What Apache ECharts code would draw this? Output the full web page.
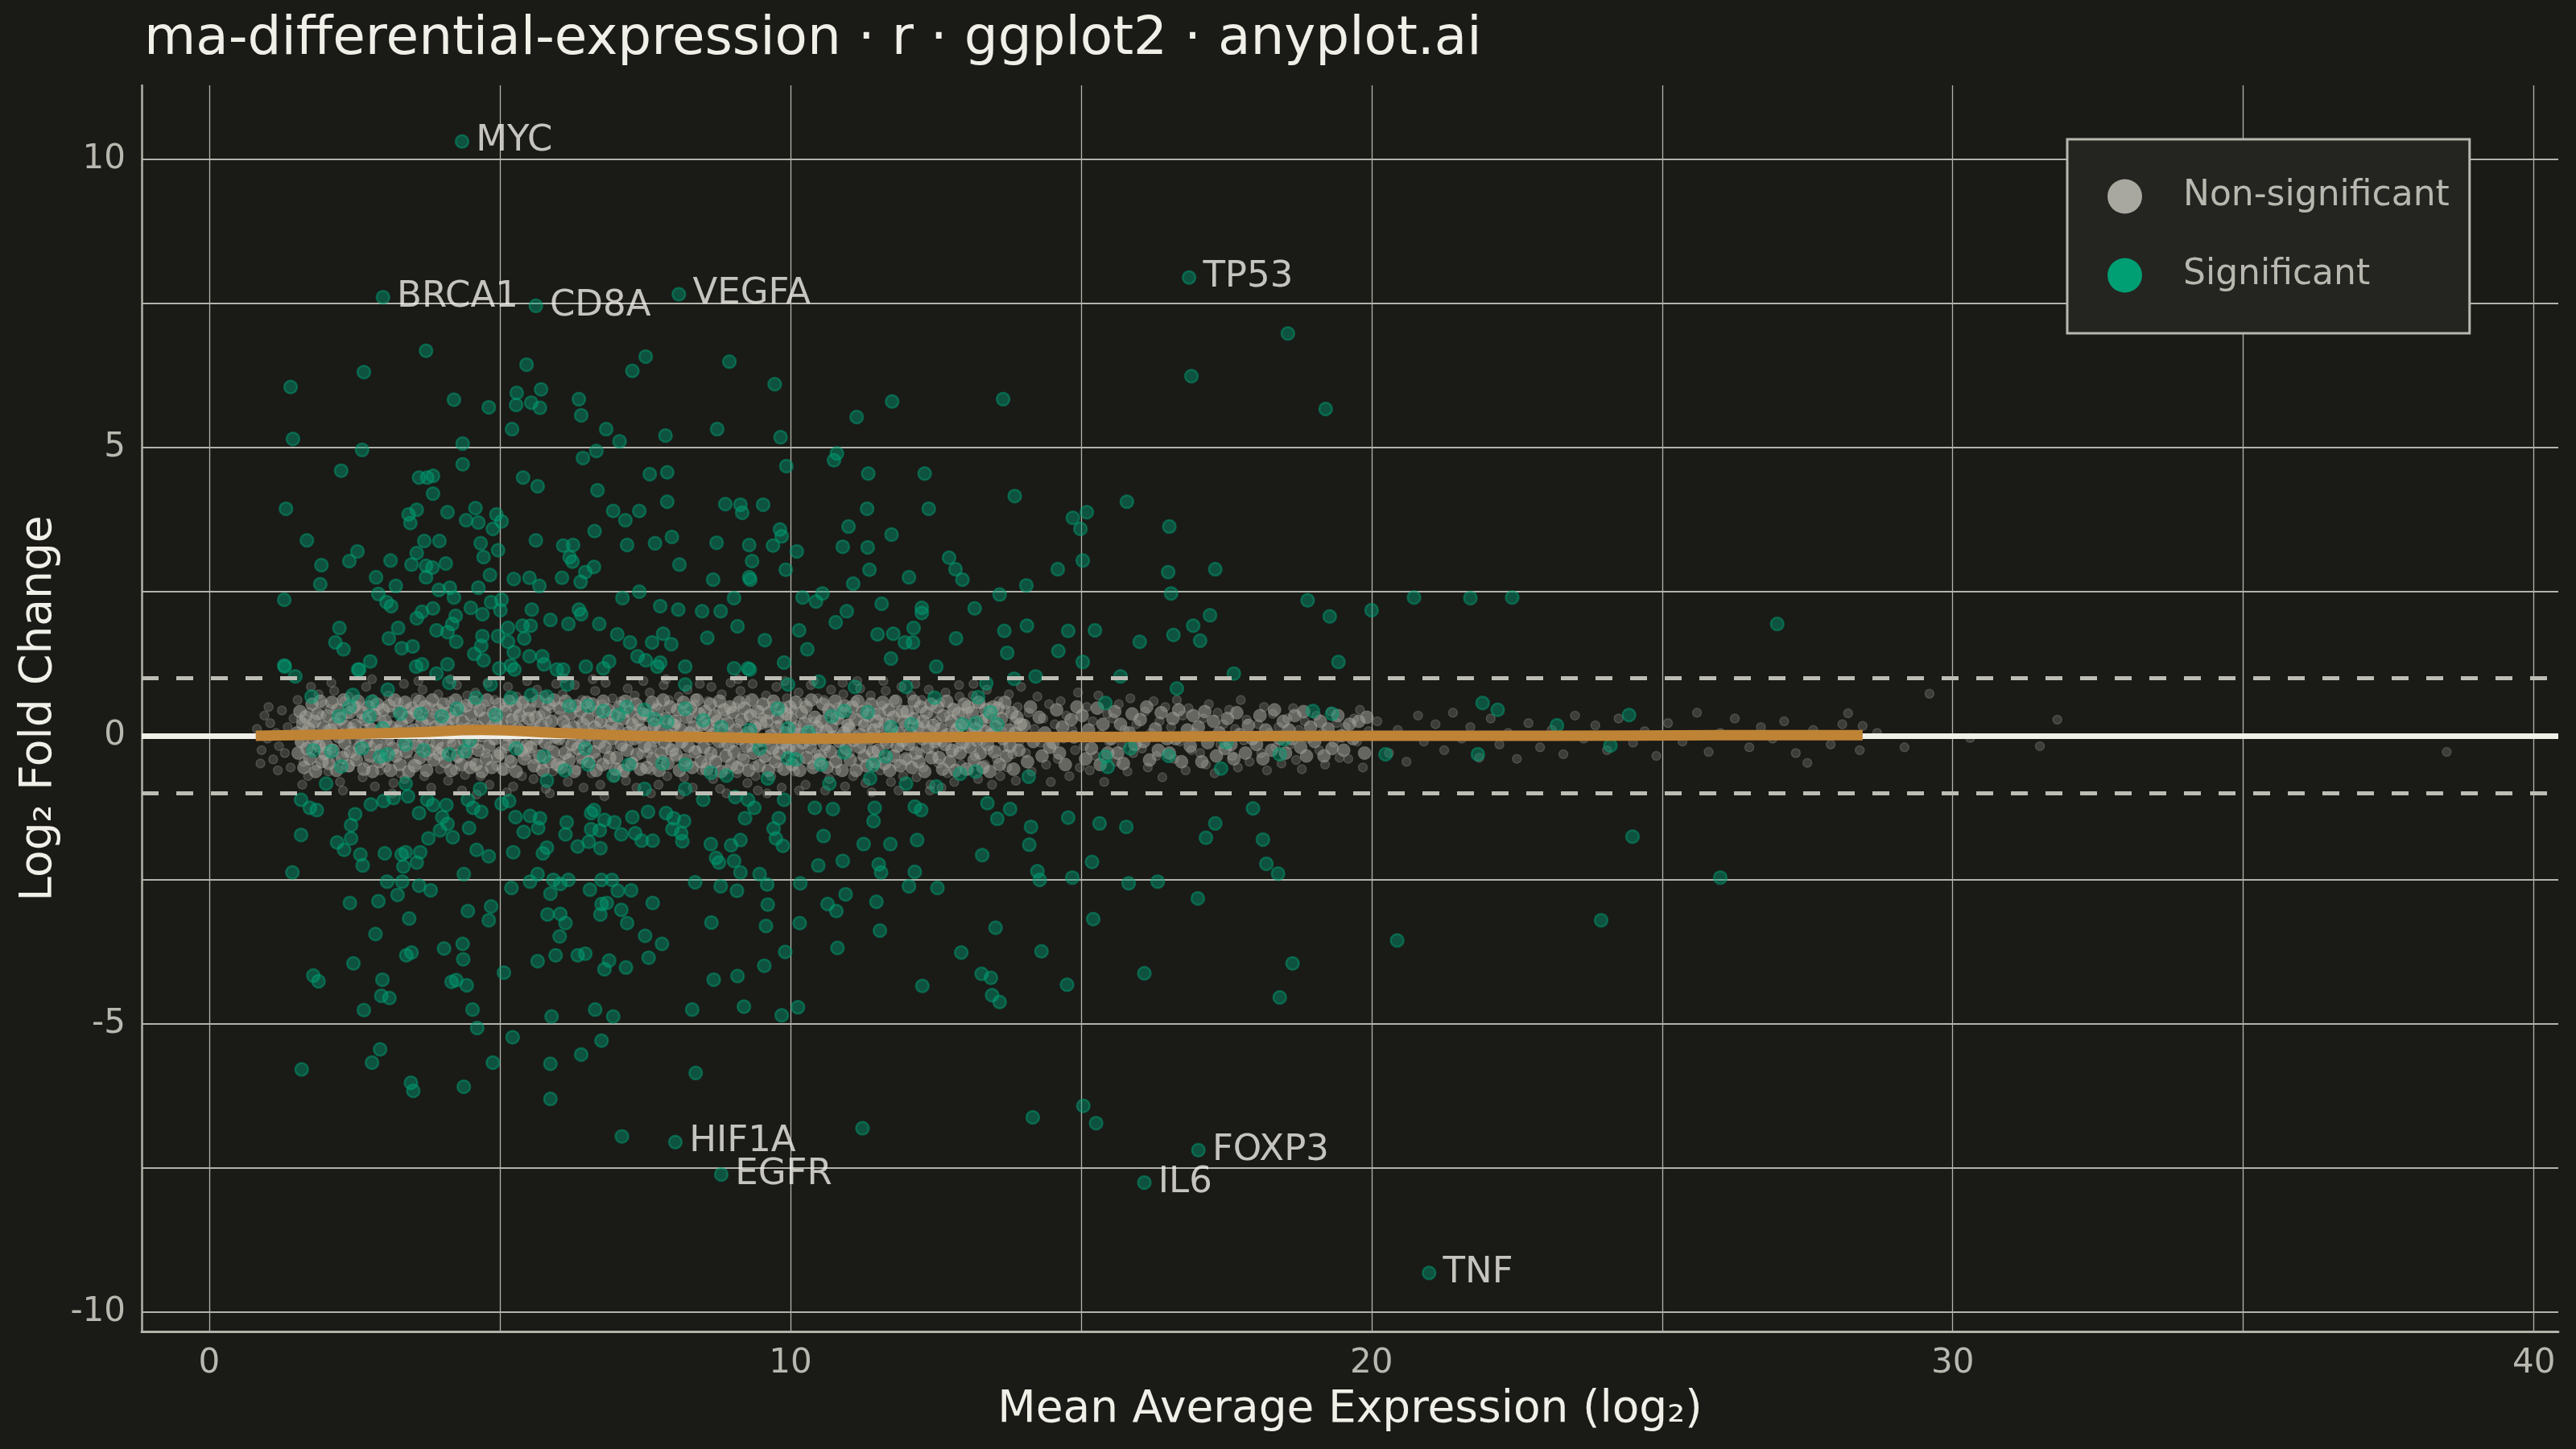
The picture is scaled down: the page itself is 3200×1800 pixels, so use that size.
<!DOCTYPE html>
<html>
<head>
<meta charset="utf-8">
<title>ma-differential-expression</title>
<script src="https://cdn.jsdelivr.net/npm/echarts@6/dist/echarts.min.js"></script>
<style>
  html, body { margin: 0; padding: 0; background: #1a1a17; }
  #chart { width: 3200px; height: 1800px; }
</style>
</head>
<body>
<div id="chart"></div>
<script>
// [mean expression (log2), log2 fold change]
const nonSigPoints = [
  [0.82,0.12],[0.9,-0.25],[0.95,0.35],[1.0,-0.05],[1.05,0.22],[1.1,-0.41],[1.15,0.05],[1.2,-0.18],[1.25,0.44],[1.3,-0.3],[1.35,0.15],[1.4,-0.55],[1.45,0.3],[0.88,-0.48],[1.02,0.5],[1.18,-0.6],
  [1.52,0.62],[1.55,-0.12],[1.58,0.28],[1.62,-0.45],[1.65,0.08],[1.7,-0.7],[1.72,0.41],[1.76,-0.26],[1.8,0.18],[1.84,-0.52],[1.88,0.72],[1.9,-0.02],[1.93,0.35],[1.96,-0.35],[1.98,0.55],[1.6,-0.85],[1.75,0.85],[1.85,-0.15],
  [2.02,0.1],[2.05,-0.62],[2.08,0.46],[2.12,-0.22],[2.15,0.78],[2.18,-0.42],[2.22,0.25],[2.25,-0.8],[2.28,0.05],[2.32,0.6],[2.35,-0.3],[2.38,0.38],[2.42,-0.55],[2.45,0.15],[2.48,-0.08],[2.1,0.92],[2.3,-0.95],[2.4,0.68],
  [2.52,-0.35],[2.55,0.52],[2.58,-0.05],[2.61,0.3],[2.64,-0.72],[2.67,0.12],[2.7,0.85],[2.73,-0.48],[2.76,0.2],[2.79,-0.18],[2.82,0.64],[2.85,-0.88],[2.88,0.02],[2.91,0.44],[2.94,-0.6],[2.97,0.27],[2.6,-0.25],[2.8,0.98],
  [3.02,0.18],[3.05,-0.55],[3.08,0.7],[3.11,-0.1],[3.14,0.4],[3.17,-0.82],[3.2,0.05],[3.23,-0.3],[3.26,0.58],[3.29,-0.65],[3.32,0.25],[3.35,0.9],[3.38,-0.2],[3.41,0.47],[3.44,-0.42],[3.47,0.1],[3.15,-1.0],[3.36,-0.75],
  [3.52,-0.15],[3.55,0.66],[3.58,-0.5],[3.61,0.32],[3.64,-0.02],[3.67,0.8],[3.7,-0.7],[3.73,0.2],[3.76,-0.35],[3.79,0.5],[3.82,-0.9],[3.85,0.08],[3.88,0.38],[3.91,-0.25],[3.94,0.72],[3.97,-0.58],[3.6,0.95],[3.8,-0.12],
  [4.02,0.42],[4.05,-0.32],[4.08,0.02],[4.11,-0.78],[4.14,0.6],[4.17,-0.12],[4.2,0.28],[4.23,-0.6],[4.26,0.88],[4.29,-0.4],[4.32,0.15],[4.35,-0.95],[4.38,0.5],[4.41,-0.2],[4.44,0.7],[4.47,-0.05],[4.15,0.98],[4.4,-0.68],
  [4.52,-0.45],[4.55,0.22],[4.58,0.75],[4.61,-0.15],[4.64,0.4],[4.67,-0.7],[4.7,0.05],[4.73,0.55],[4.76,-0.3],[4.79,0.92],[4.82,-0.85],[4.85,0.18],[4.88,-0.08],[4.91,0.62],[4.94,-0.52],[4.97,0.32],[4.6,-1.02],[4.86,0.45],
  [5.02,0.1],[5.05,-0.6],[5.08,0.5],[5.11,-0.22],[5.14,0.85],[5.17,-0.4],[5.2,0.3],[5.23,-0.88],[5.26,0.02],[5.29,0.68],[5.32,-0.12],[5.35,0.4],[5.38,-0.7],[5.41,0.2],[5.44,-0.35],[5.47,0.95],[5.12,-0.98],[5.4,0.6],
  [5.52,-0.28],[5.55,0.58],[5.58,-0.75],[5.61,0.15],[5.64,0.8],[5.67,-0.05],[5.7,0.36],[5.73,-0.5],[5.76,0.7],[5.79,-0.92],[5.82,0.25],[5.85,-0.18],[5.88,0.48],[5.91,-0.62],[5.94,0.05],[5.97,0.9],[5.6,-0.4],[5.86,-1.0],
  [6.02,0.35],[6.05,-0.42],[6.08,0.72],[6.11,-0.1],[6.14,0.2],[6.17,-0.8],[6.2,0.55],[6.23,-0.3],[6.26,0.0],[6.29,0.88],[6.32,-0.6],[6.35,0.28],[6.38,-0.15],[6.41,0.62],[6.44,-0.9],[6.47,0.12],[6.1,1.0],[6.4,-0.48],
  [6.52,-0.2],[6.55,0.45],[6.58,-0.65],[6.61,0.1],[6.64,0.78],[6.67,-0.38],[6.7,0.25],[6.73,-0.85],[6.76,0.55],[6.79,-0.02],[6.82,0.92],[6.85,-0.5],[6.88,0.32],[6.91,-0.25],[6.94,0.65],[6.97,-0.72],[6.6,0.98],[6.8,-1.05],
  [7.02,0.05],[7.05,-0.55],[7.08,0.6],[7.11,-0.2],[7.14,0.38],[7.17,-0.78],[7.2,0.82],[7.23,-0.1],[7.26,0.22],[7.29,-0.45],[7.32,0.7],[7.35,-0.9],[7.38,0.12],[7.41,0.48],[7.44,-0.32],[7.47,0.95],[7.15,-0.65],[7.4,-0.05],
  [7.52,0.4],[7.55,-0.3],[7.58,0.75],[7.61,-0.6],[7.64,0.15],[7.67,-0.12],[7.7,0.52],[7.73,-0.85],[7.76,0.3],[7.79,-0.4],[7.82,0.88],[7.85,0.0],[7.88,-0.7],[7.91,0.62],[7.94,-0.2],[7.97,0.25],[7.6,-1.0],[7.86,0.98],
  [8.02,-0.38],[8.05,0.2],[8.08,0.68],[8.11,-0.15],[8.14,0.42],[8.17,-0.72],[8.2,0.02],[8.23,0.8],[8.26,-0.5],[8.29,0.3],[8.32,-0.9],[8.35,0.55],[8.38,-0.25],[8.41,0.1],[8.44,0.9],[8.47,-0.6],[8.1,-1.02],[8.36,0.65],
  [8.52,0.28],[8.55,-0.48],[8.58,0.6],[8.61,-0.08],[8.64,0.85],[8.67,-0.75],[8.7,0.12],[8.73,-0.3],[8.76,0.45],[8.79,-0.92],[8.82,0.72],[8.85,-0.18],[8.88,0.35],[8.91,-0.58],[8.94,0.05],[8.97,0.92],[8.6,-0.38],[8.9,-1.0],
  [9.02,-0.12],[9.05,0.5],[9.08,-0.65],[9.11,0.22],[9.14,0.78],[9.17,-0.35],[9.2,0.02],[9.23,0.62],[9.26,-0.82],[9.29,0.35],[9.32,-0.2],[9.35,0.9],[9.38,-0.52],[9.41,0.15],[9.44,-0.95],[9.47,0.45],[9.1,0.98],[9.4,-0.7],
  [9.52,0.32],[9.55,-0.4],[9.58,0.7],[9.61,-0.08],[9.64,0.12],[9.67,-0.7],[9.7,0.52],[9.73,-0.25],[9.76,0.85],[9.79,-0.55],[9.82,0.2],[9.85,-0.9],[9.88,0.4],[9.91,-0.15],[9.94,0.65],[9.97,-0.35],[9.6,-1.0],[9.9,0.95],
  [10.02,-0.2],[10.05,0.45],[10.08,-0.62],[10.11,0.18],[10.14,0.75],[10.17,-0.42],[10.2,0.05],[10.23,0.58],[10.26,-0.85],[10.29,0.3],[10.32,-0.1],[10.35,0.88],[10.38,-0.5],[10.41,0.25],[10.44,-0.3],[10.47,0.65],[10.15,-0.95],[10.4,0.95],
  [10.52,0.1],[10.55,-0.5],[10.58,0.62],[10.61,-0.22],[10.64,0.38],[10.67,-0.75],[10.7,0.8],[10.73,-0.05],[10.76,0.28],[10.79,-0.6],[10.82,0.5],[10.85,-0.32],[10.88,0.02],[10.91,0.72],[10.94,-0.88],[10.97,0.2],[10.6,-0.95],[10.9,0.92],
  [11.02,-0.3],[11.05,0.35],[11.08,-0.7],[11.11,0.6],[11.14,0.0],[11.17,-0.45],[11.2,0.82],[11.23,-0.15],[11.26,0.22],[11.29,-0.82],[11.32,0.5],[11.35,-0.25],[11.38,0.7],[11.41,0.08],[11.44,-0.55],[11.47,0.4],[11.15,0.95],[11.4,-0.98],
  [11.52,0.15],[11.55,-0.6],[11.58,0.52],[11.61,-0.1],[11.64,0.78],[11.67,-0.35],[11.7,0.3],[11.73,-0.8],[11.76,0.05],[11.79,0.62],[11.82,-0.48],[11.85,0.4],[11.88,-0.2],[11.91,0.85],[11.94,-0.7],[11.97,0.18],[11.6,0.95],[11.86,-0.95],
  [12.02,-0.4],[12.05,0.28],[12.08,0.7],[12.11,-0.18],[12.14,0.45],[12.17,-0.72],[12.2,0.1],[12.23,-0.3],[12.26,0.62],[12.29,-0.55],[12.32,0.2],[12.35,-0.05],[12.38,0.8],[12.41,-0.85],[12.44,0.35],[12.47,-0.25],[12.15,0.9],[12.4,-0.95],
  [12.52,0.25],[12.55,-0.48],[12.58,0.58],[12.61,-0.12],[12.64,0.02],[12.67,0.75],[12.7,-0.65],[12.73,0.35],[12.76,-0.3],[12.79,0.5],[12.82,-0.8],[12.85,0.15],[12.88,-0.2],[12.91,0.68],[12.94,-0.5],[12.97,0.4],[12.6,-0.9],[12.9,0.88],
  [13.02,-0.15],[13.05,0.42],[13.08,-0.6],[13.11,0.2],[13.14,0.7],[13.17,-0.35],[13.2,0.05],[13.23,-0.75],[13.26,0.55],[13.29,-0.1],[13.32,0.3],[13.35,-0.5],[13.38,0.8],[13.41,-0.25],[13.44,0.12],[13.47,-0.85],[13.15,0.9],[13.4,0.5],
  [13.52,0.32],[13.55,-0.4],[13.58,0.6],[13.61,-0.7],[13.64,0.08],[13.67,-0.2],[13.7,0.45],[13.73,-0.55],[13.76,0.72],[13.79,0.0],[13.82,-0.32],[13.85,0.25],[13.88,-0.78],[13.91,0.5],[13.94,-0.1],[13.97,0.85],
  [14.05,-0.3],[14.1,0.4],[14.15,-0.62],[14.2,0.12],[14.25,0.68],[14.3,-0.12],[14.35,0.3],[14.4,-0.5],[14.45,0.55],[14.48,-0.8],
  [14.55,0.2],[14.6,-0.4],[14.65,0.6],[14.7,-0.05],[14.75,0.35],[14.8,-0.7],[14.85,0.1],[14.9,-0.25],[14.95,0.75],[14.98,-0.55],
  [15.05,-0.18],[15.1,0.5],[15.15,-0.6],[15.2,0.25],[15.25,-0.35],[15.3,0.7],[15.35,0.02],[15.4,-0.8],[15.45,0.38],[15.48,-0.1],
  [15.55,0.3],[15.6,-0.45],[15.65,0.55],[15.7,-0.15],[15.75,0.1],[15.8,-0.62],[15.85,0.65],[15.9,-0.3],[15.95,0.2],
  [16.05,-0.22],[16.1,0.42],[16.15,-0.55],[16.2,0.05],[16.25,0.6],[16.3,-0.35],[16.35,0.25],[16.4,-0.72],[16.45,0.5],
  [16.55,0.15],[16.6,-0.4],[16.65,0.62],[16.7,-0.1],[16.75,0.35],[16.8,-0.6],[16.85,0.48],[16.9,-0.25],[16.95,0.05],
  [17.05,-0.3],[17.1,0.3],[17.15,-0.5],[17.2,0.55],[17.25,0.0],[17.3,-0.65],[17.35,0.4],[17.4,-0.15],[17.45,0.2],
  [17.55,0.45],[17.6,-0.35],[17.65,0.12],[17.7,-0.55],[17.75,0.62],[17.8,-0.08],[17.85,0.28],[17.9,-0.45],
  [18.05,0.2],[18.1,-0.3],[18.15,0.5],[18.2,-0.6],[18.25,0.05],[18.3,0.38],[18.35,-0.2],[18.4,0.15],[18.45,-0.48],
  [18.55,0.3],[18.6,-0.15],[18.65,0.48],[18.7,-0.42],[18.75,0.1],[18.8,-0.58],[18.85,0.25],[18.9,-0.05],
  [19.05,0.35],[19.1,-0.25],[19.15,0.05],[19.2,-0.5],[19.3,0.42],[19.35,-0.12],[19.4,0.22],[19.45,-0.38],
  [19.55,0.15],[19.6,-0.4],[19.7,0.3],[19.75,-0.1],[19.8,0.45],[19.85,-0.55],[19.95,0.08],
  [20.1,0.25],[20.3,-0.3],[20.45,0.1],[20.6,-0.45],[20.8,0.35],[20.9,-0.1],
  [21.1,0.2],[21.25,-0.25],[21.4,0.4],[21.55,-0.05],[21.7,0.15],[21.85,-0.38],
  [22.05,0.3],[22.2,-0.15],[22.35,0.05],[22.5,-0.4],[22.7,0.22],[22.9,-0.2],
  [23.1,0.1],[23.3,-0.32],[23.5,0.35],[23.65,-0.05],[23.85,0.18],
  [24.05,-0.25],[24.25,0.3],[24.5,-0.12],[24.7,0.08],[24.9,-0.35],
  [25.1,0.22],[25.35,-0.1],[25.6,0.4],[25.8,-0.28],
  [26.0,0.05],[26.25,0.3],[26.5,-0.2],[26.7,0.15],[26.9,-0.05],
  [27.1,0.25],[27.3,-0.3],[27.5,-0.47],[27.6,0.1],[27.9,-0.15],
  [28.1,0.2],[28.2,0.39],[28.45,0.17],[28.4,-0.25],[28.7,0.05],
  [29.17,-0.2],[29.6,0.73],[30.3,-0.04],[31.5,-0.18],[31.8,0.28],[38.5,-0.28]
];

// the dense core of the cloud, inside roughly +/-0.6
const nonSigCore = [
  [1.51,0.05],[1.53,-0.3],[1.56,0.42],[1.59,-0.1],[1.61,0.2],[1.63,-0.55],[1.66,0.33],[1.68,-0.22],[1.71,0.12],[1.73,-0.4],[1.77,0.55],[1.79,-0.05],[1.81,0.25],[1.83,-0.62],[1.86,0.38],[1.89,-0.18],[1.91,0.6],[1.94,-0.45],[1.97,0.15],[1.99,-0.3],
  [2.01,-0.15],[2.03,0.35],[2.06,-0.48],[2.09,0.1],[2.11,0.58],[2.13,-0.25],[2.16,0.22],[2.19,-0.6],[2.21,0.45],[2.23,-0.02],[2.26,0.3],[2.29,-0.38],[2.31,0.62],[2.33,-0.12],[2.36,0.16],[2.39,-0.52],[2.41,0.4],[2.43,-0.28],[2.46,0.05],[2.49,0.5],
  [2.51,0.18],[2.53,-0.42],[2.56,0.6],[2.59,-0.2],[2.62,0.02],[2.63,0.4],[2.66,-0.58],[2.69,0.28],[2.71,-0.1],[2.74,0.5],[2.77,-0.35],[2.78,0.12],[2.81,-0.62],[2.84,0.36],[2.86,-0.15],[2.89,0.55],[2.92,-0.45],[2.93,0.08],[2.96,-0.25],[2.99,0.45],
  [3.01,-0.4],[3.03,0.25],[3.06,-0.05],[3.09,0.52],[3.12,-0.6],[3.13,0.15],[3.16,-0.22],[3.19,0.62],[3.21,-0.35],[3.24,0.08],[3.27,0.42],[3.28,-0.5],[3.31,0.2],[3.34,-0.12],[3.37,0.58],[3.39,-0.28],[3.42,0.32],[3.43,-0.62],[3.46,0.0],[3.49,0.48],
  [3.51,0.1],[3.53,-0.52],[3.56,0.4],[3.59,-0.18],[3.62,0.6],[3.63,-0.38],[3.66,0.22],[3.69,-0.05],[3.71,0.5],[3.74,-0.6],[3.77,0.3],[3.78,-0.25],[3.81,0.05],[3.84,0.62],[3.86,-0.42],[3.89,0.15],[3.92,-0.12],[3.93,0.45],[3.96,-0.32],[3.99,0.25],
  [4.01,-0.22],[4.03,0.55],[4.06,-0.45],[4.09,0.18],[4.12,-0.02],[4.13,0.4],[4.16,-0.6],[4.19,0.3],[4.21,-0.15],[4.24,0.62],[4.27,-0.35],[4.28,0.08],[4.31,0.45],[4.34,-0.5],[4.36,0.25],[4.39,-0.08],[4.42,0.52],[4.43,-0.28],[4.46,0.12],[4.49,-0.55],
  [4.51,0.35],[4.53,-0.1],[4.56,0.58],[4.59,-0.5],[4.62,0.15],[4.63,-0.25],[4.66,0.45],[4.69,-0.62],[4.71,0.0],[4.74,0.3],[4.77,-0.4],[4.78,0.62],[4.81,-0.18],[4.84,0.1],[4.86,-0.55],[4.89,0.4],[4.92,-0.05],[4.93,0.22],[4.96,-0.35],[4.99,0.55],
  [5.01,-0.3],[5.03,0.2],[5.06,-0.58],[5.09,0.42],[5.12,0.02],[5.13,-0.15],[5.16,0.6],[5.19,-0.45],[5.21,0.28],[5.24,-0.08],[5.27,0.5],[5.28,-0.62],[5.31,0.12],[5.34,0.35],[5.36,-0.25],[5.39,0.58],[5.42,-0.4],[5.43,0.05],[5.46,-0.18],[5.49,0.3],
  [5.51,0.45],[5.53,-0.2],[5.56,0.1],[5.59,-0.52],[5.62,0.32],[5.63,-0.05],[5.66,0.6],[5.69,-0.35],[5.71,0.18],[5.74,-0.6],[5.77,0.4],[5.78,-0.12],[5.81,0.05],[5.84,0.55],[5.86,-0.45],[5.89,0.25],[5.92,-0.28],[5.93,0.62],[5.96,-0.02],[5.99,-0.5],
  [6.01,-0.05],[6.03,0.48],[6.06,-0.55],[6.09,0.25],[6.12,-0.3],[6.13,0.6],[6.16,0.08],[6.19,-0.42],[6.21,0.38],[6.24,-0.15],[6.27,0.15],[6.28,-0.62],[6.31,0.52],[6.34,-0.22],[6.36,0.02],[6.39,0.42],[6.42,-0.38],[6.43,0.2],[6.46,-0.08],[6.49,0.58],
  [6.51,0.3],[6.53,-0.45],[6.56,0.02],[6.59,0.55],[6.62,-0.28],[6.63,0.15],[6.66,-0.6],[6.69,0.42],[6.71,-0.12],[6.74,0.25],[6.77,-0.5],[6.78,0.6],[6.81,-0.2],[6.84,0.08],[6.86,0.45],[6.89,-0.38],[6.92,0.2],[6.93,-0.05],[6.96,0.35],[6.99,-0.58],
  [7.01,-0.38],[7.03,0.12],[7.06,0.5],[7.09,-0.15],[7.12,0.3],[7.13,-0.6],[7.16,0.6],[7.19,-0.25],[7.21,0.05],[7.24,0.42],[7.27,-0.48],[7.28,0.2],[7.31,-0.05],[7.34,0.55],[7.36,-0.32],[7.39,0.28],[7.42,-0.58],[7.43,0.1],[7.46,0.38],[7.49,-0.18],
  [7.51,0.05],[7.53,-0.55],[7.56,0.35],[7.59,-0.2],[7.62,0.58],[7.63,-0.4],[7.66,0.2],[7.69,-0.02],[7.71,0.45],[7.74,-0.6],[7.77,0.12],[7.78,-0.3],[7.81,0.62],[7.84,-0.12],[7.86,0.3],[7.89,-0.48],[7.92,0.0],[7.93,0.5],[7.96,-0.25],[7.99,0.18],
  [8.01,0.25],[8.03,-0.32],[8.06,0.45],[8.09,-0.6],[8.12,0.1],[8.13,-0.1],[8.16,0.58],[8.19,-0.42],[8.21,0.32],[8.24,-0.18],[8.27,0.05],[8.28,0.48],[8.31,-0.55],[8.34,0.15],[8.36,-0.28],[8.39,0.62],[8.42,-0.02],[8.43,0.38],[8.46,-0.45],[8.49,0.2],
  [8.51,-0.2],[8.53,0.42],[8.56,-0.58],[8.59,0.18],[8.62,0.55],[8.63,-0.3],[8.66,0.02],[8.69,0.35],[8.71,-0.45],[8.74,0.25],[8.77,-0.1],[8.78,0.6],[8.81,-0.62],[8.84,0.1],[8.86,0.45],[8.89,-0.35],[8.92,0.22],[8.93,-0.15],[8.96,0.5],[8.99,-0.5],
  [9.01,0.4],[9.03,-0.28],[9.06,0.1],[9.09,-0.55],[9.12,0.58],[9.13,-0.05],[9.16,0.28],[9.19,-0.42],[9.21,0.48],[9.24,-0.18],[9.27,0.05],[9.28,-0.6],[9.31,0.35],[9.34,0.62],[9.36,-0.3],[9.39,0.15],[9.42,-0.1],[9.43,0.42],[9.46,-0.52],[9.49,0.22],
  [9.51,-0.08],[9.53,0.55],[9.56,-0.35],[9.59,0.25],[9.62,-0.6],[9.63,0.4],[9.66,0.0],[9.69,-0.22],[9.71,0.6],[9.74,-0.45],[9.77,0.15],[9.78,0.32],[9.81,-0.3],[9.84,0.48],[9.86,-0.12],[9.89,-0.58],[9.92,0.05],[9.93,0.38],[9.96,-0.2],[9.99,0.5],
  [10.01,0.3],[10.03,-0.5],[10.06,0.12],[10.09,0.58],[10.12,-0.25],[10.13,0.02],[10.16,-0.6],[10.19,0.4],[10.21,-0.12],[10.24,0.22],[10.27,0.5],[10.28,-0.38],[10.31,0.08],[10.34,-0.2],[10.36,0.62],[10.39,-0.55],[10.42,0.32],[10.43,-0.05],[10.46,0.15],[10.49,-0.42],
  [10.51,-0.35],[10.53,0.25],[10.56,0.55],[10.59,-0.15],[10.62,0.08],[10.63,-0.55],[10.66,0.45],[10.69,-0.28],[10.71,0.15],[10.74,-0.02],[10.77,0.6],[10.78,-0.45],[10.81,0.3],[10.84,-0.1],[10.86,0.4],[10.89,-0.6],[10.92,0.05],[10.93,0.52],[10.96,-0.22],[10.99,0.18],
  [11.01,0.12],[11.03,-0.42],[11.06,0.5],[11.09,-0.08],[11.12,0.28],[11.13,-0.6],[11.16,0.6],[11.19,-0.2],[11.21,0.02],[11.24,0.42],[11.27,-0.35],[11.28,0.18],[11.31,-0.52],[11.34,0.35],[11.36,-0.05],[11.39,0.55],[11.42,-0.28],[11.43,0.1],[11.46,-0.45],[11.49,0.25],
  [11.51,-0.25],[11.53,0.38],[11.56,-0.02],[11.59,0.58],[11.62,-0.48],[11.63,0.2],[11.66,-0.12],[11.69,0.45],[11.71,-0.6],[11.74,0.1],[11.77,0.32],[11.78,-0.35],[11.81,0.6],[11.84,-0.18],[11.86,0.05],[11.89,-0.52],[11.92,0.42],[11.93,-0.08],[11.96,0.25],[11.99,-0.4],
  [12.01,0.42],[12.03,-0.15],[12.06,0.05],[12.09,-0.55],[12.12,0.3],[12.13,0.6],[12.16,-0.3],[12.19,0.15],[12.21,-0.45],[12.24,0.5],[12.27,-0.05],[12.28,0.25],[12.31,-0.62],[12.34,0.4],[12.36,-0.2],[12.39,0.08],[12.42,0.55],[12.43,-0.38],[12.46,0.18],[12.49,-0.1],
  [12.51,-0.05],[12.53,0.5],[12.56,-0.38],[12.59,0.12],[12.62,-0.58],[12.63,0.35],[12.66,-0.15],[12.69,0.6],[12.71,0.02],[12.74,-0.45],[12.77,0.25],[12.78,-0.25],[12.81,0.45],[12.84,-0.6],[12.86,0.1],[12.89,0.38],[12.92,-0.3],[12.93,0.18],[12.96,-0.12],[12.99,0.55],
  [13.01,0.22],[13.03,-0.58],[13.06,0.5],[13.09,-0.2],[13.12,0.02],[13.13,0.4],[13.16,-0.42],[13.19,0.12],[13.21,-0.08],[13.24,0.58],[13.27,-0.3],[13.28,0.25],[13.31,-0.55],[13.34,0.08],[13.36,0.45],[13.39,-0.15],[13.42,0.32],[13.43,-0.62],[13.46,0.02],[13.49,0.5],
  [13.51,-0.28],[13.54,0.15],[13.57,0.48],[13.6,-0.5],[13.63,0.3],[13.66,-0.05],[13.69,0.58],[13.72,-0.35],[13.75,0.1],[13.78,-0.18],[13.81,0.4],[13.84,-0.58],[13.87,0.05],[13.9,0.32],[13.93,-0.25],[13.96,0.2],
  [14.02,0.18],[14.08,-0.45],[14.13,0.5],[14.18,-0.1],[14.28,0.32],[14.33,-0.35],[14.38,0.05],[14.46,-0.2],
  [14.52,-0.12],[14.58,0.45],[14.63,-0.3],[14.68,0.15],[14.73,-0.5],[14.83,0.28],[14.88,-0.02],[14.93,0.5],
  [15.02,0.35],[15.08,-0.4],[15.13,0.1],[15.18,-0.22],[15.28,0.48],[15.33,-0.5],[15.38,0.2],[15.46,-0.3],
  [15.52,-0.05],[15.58,0.42],[15.63,-0.3],[15.68,0.2],[15.73,-0.48],[15.83,0.05],[15.88,0.38],[15.93,-0.15],
  [16.02,0.28],[16.08,-0.1],[16.13,0.5],[16.18,-0.42],[16.28,0.12],[16.33,-0.25],[16.38,0.4],[16.48,-0.05],
  [16.52,-0.3],[16.58,0.3],[16.63,-0.05],[16.68,0.45],[16.73,-0.45],[16.83,0.1],[16.88,-0.18],[16.93,0.35],
  [17.02,0.15],[17.08,-0.45],[17.13,0.42],[17.18,-0.12],[17.28,0.25],[17.33,-0.35],[17.38,0.05],[17.48,-0.22],
  [17.52,0.3],[17.58,-0.15],[17.63,-0.4],[17.68,0.4],[17.73,0.02],[17.83,-0.3],[17.88,0.18],[17.95,-0.05],
  [18.02,-0.15],[18.08,0.35],[18.13,-0.4],[18.18,0.1],[18.28,-0.25],[18.33,0.45],[18.42,-0.05],[18.48,0.25],
  [18.52,-0.3],[18.58,0.1],[18.63,-0.05],[18.68,0.35],[18.78,-0.2],[18.83,0.42],[18.88,-0.35],[18.95,0.15],
  [19.02,-0.1],[19.12,0.25],[19.18,-0.35],[19.25,0.12],[19.32,-0.22],[19.42,0.35],[19.48,0.0],
  [19.52,-0.25],[19.62,0.2],[19.68,-0.05],[19.78,0.25],[19.88,-0.3],[19.92,0.32]
];

const sigPoints = [
  // far above the band
  [3.73,6.68],[2.66,6.31],[1.40,6.05],[1.44,5.15],[4.21,5.83],[4.81,5.70],[5.28,5.74],[5.29,5.95],[5.71,6.01],[5.54,5.78],
  [5.69,5.69],[5.46,6.44],[5.21,5.32],[6.36,5.84],[6.40,5.56],[6.83,5.32],[7.06,5.11],[7.51,6.58],[7.28,6.33],[7.85,5.21],
  [8.74,5.32],[8.95,6.49],[9.73,6.10],[9.83,5.18],[11.75,5.80],[11.14,5.53],[4.36,5.07],[2.63,4.96],[13.66,5.84],[16.9,6.24],
  [18.56,6.98],[19.21,5.67],
  // +2.5 .. +5
  [2.27,4.6],[4.36,4.71],[3.61,4.48],[3.75,4.48],[3.85,4.51],[3.85,4.2],[5.4,4.48],[5.65,4.33],[6.43,4.82],[6.66,4.94],
  [6.68,4.26],[7.58,4.54],[7.88,4.57],[9.93,4.68],[10.8,4.9],[10.75,4.78],[11.34,4.55],[12.31,4.55],[1.32,3.94],[3.57,3.92],
  [3.43,3.84],[3.46,3.69],[4.1,3.88],[4.58,3.95],[4.42,3.74],[4.63,3.7],[4.94,3.84],[5.03,3.72],[4.88,3.59],[7.88,4.06],
  [6.95,3.9],[7.4,3.9],[7.16,3.74],[8.88,4.02],[9.14,4.01],[9.17,3.87],[9.53,4.01],[11.32,3.94],[12.38,3.94],[9.82,3.58],
  [9.85,3.46],[11.0,3.63],[11.74,3.49],[1.68,3.39],[2.55,3.2],[2.41,3.03],[1.93,2.96],[1.91,2.63],[1.29,2.36],[3.12,3.04],
  [2.87,2.75],[3.21,2.6],[3.7,3.38],[3.96,3.38],[3.57,3.17],[3.48,2.97],[3.73,2.95],[3.84,2.92],[4.07,2.99],[3.73,2.75],
  [4.67,3.34],[4.72,3.1],[4.83,2.79],[4.63,2.57],[4.97,3.22],[5.62,3.39],[6.09,3.3],[6.26,3.31],[6.2,3.1],[6.25,3.02],
  [6.62,2.93],[6.47,2.84],[6.39,2.67],[6.07,2.74],[5.51,2.74],[5.68,2.6],[5.24,2.72],[6.63,3.55],[7.19,3.31],[7.67,3.34],
  [7.96,3.45],[8.09,2.97],[8.73,3.35],[9.29,3.31],[9.34,3.03],[9.29,2.75],[9.31,2.71],[9.7,3.3],[9.92,2.88],[8.67,2.71],
  [10.11,3.2],[10.9,3.28],[11.33,3.27],[11.36,2.88],[11.08,2.64],[12.04,2.75],[12.73,3.09],[12.84,2.89],[12.96,2.71],
  [13.86,4.16],[14.86,3.78],[15.1,3.88],[14.99,3.59],[15.79,4.06],[16.52,3.63],[14.6,2.89],[15.03,3.04],[14.06,2.61],[16.5,2.84],
  [17.31,2.89],[16.55,2.47],[18.9,2.35],[20.73,2.4],[21.7,2.39],[22.42,2.4],[26.98,1.94],
  // +1 .. +2.5
  [2.91,2.46],[3.05,2.32],[3.13,2.25],[2.24,1.87],[2.17,1.62],[2.31,1.5],[3.25,1.87],[3.09,1.69],[3.31,1.52],[3.5,1.55],
  [3.66,2.15],[3.57,2.04],[3.85,2.21],[3.91,1.83],[4.24,2.08],[4.18,1.94],[4.1,1.8],[4.25,1.63],[3.95,2.53],[4.14,2.57],
  [4.21,2.4],[4.5,2.22],[4.7,2.11],[4.85,2.32],[5.03,2.36],[5.01,2.18],[4.7,1.73],[4.68,1.56],[4.56,1.42],[4.72,1.31],
  [4.97,1.73],[5.14,1.87],[5.14,1.63],[5.39,1.91],[5.53,1.91],[5.42,1.69],[5.24,1.45],[5.51,1.38],[5.73,1.38],[5.55,2.19],
  [5.87,2.01],[6.18,1.94],[6.36,2.19],[6.4,2.11],[6.71,1.94],[7.02,1.76],[7.24,1.62],[7.37,1.38],[7.51,1.31],[7.4,2.5],
  [7.11,2.39],[7.81,1.77],[7.95,1.59],[7.62,1.62],[7.76,2.25],[8.07,2.19],[8.48,2.16],[8.8,2.16],[9.03,2.39],[9.09,1.9],
  [8.57,1.7],[9.56,1.66],[10.15,1.83],[10.29,1.5],[10.21,2.4],[10.44,2.33],[10.55,2.47],[10.97,2.16],[10.78,1.97],[11.57,2.29],
  [12.26,2.22],[12.26,2.13],[12.12,1.87],[11.77,1.77],[11.5,1.76],[11.97,1.62],[12.11,1.62],[12.85,1.69],[13.17,2.21],[13.6,2.45],
  [11.73,1.34],[12.51,1.2],[9.89,1.27],[9.27,1.17],[9.03,1.17],[8.19,1.2],[7.76,1.27],[6.88,1.29],[6.48,1.2],[6.09,1.15],
  [5.76,1.24],[5.25,1.15],[4.99,1.17],[4.1,1.24],[3.66,1.24],[2.77,1.29],[2.56,1.15],[1.29,1.22],
  [13.68,1.82],[14.07,1.91],[13.73,1.44],[14.61,1.47],[14.78,1.82],[15.24,1.83],[16.01,1.63],[16.59,1.75],[17.05,1.65],[16.93,1.91],
  [17.22,2.09],[19.28,2.07],[20.0,2.18],[19.43,1.28],[17.63,1.08],[15.03,1.28],[14.22,1.03],[15.68,1.03],
  // inside the band
  [1.3,1.2],[1.48,1.03],[4.13,0.92],[4.84,0.89],[6.16,0.89],[8.19,0.89],[9.96,0.89],[10.49,0.94],[11.11,0.85],[11.99,0.85],
  [2.58,1.15],[3.56,1.2],[3.91,1.08],[5.19,1.22],[5.98,1.15],[6.78,1.17],[7.71,1.2],[9.3,1.15],
  [1.76,0.68],[2.47,0.71],[2.8,0.59],[3.07,0.8],[2.76,0.34],[2.23,0.34],[2.41,0.5],[2.98,0.13],[3.29,0.38],[3.64,0.38],
  [4.0,0.34],[4.26,0.47],[4.59,0.66],[4.93,0.36],[5.19,0.66],[5.54,0.71],[5.81,0.68],[6.2,0.52],[6.52,0.52],[6.78,0.43],
  [7.04,0.36],[7.18,0.5],[7.49,0.45],[7.66,0.29],[7.88,0.24],[8.19,0.47],[8.5,0.27],[8.81,0.15],[9.3,0.1],[9.78,0.47],
  [9.96,0.13],[10.31,0.06],[10.71,0.34],[10.93,0.43],[11.33,0.41],[11.73,0.15],[12.08,0.2],
  [1.79,-0.25],[2.1,-0.27],[2.27,-0.53],[2.63,-0.22],[2.94,-0.36],[3.07,-0.32],[3.38,-0.15],[3.69,-0.25],[4.13,-0.32],[4.39,-0.27],
  [4.48,-0.08],[5.28,-0.22],[5.76,-0.36],[6.12,-0.6],[6.47,-0.22],[6.52,-0.5],[6.96,-0.69],[7.22,-0.5],[7.8,-0.48],[8.19,-0.5],
  [8.63,-0.64],[8.9,-0.69],[9.47,-0.22],[9.96,-0.39],[10.09,-0.41],[10.53,-0.5],[10.93,-0.29],[11.42,-0.5],[11.64,-0.36],[11.99,-0.83],
  [2.01,-0.83],[3.38,-0.83],[4.66,-0.92],[5.81,-0.78],[7.49,-0.92],[8.19,-0.92],[9.61,-0.74],[10.67,-0.83],[11.37,-0.74],
  [13.37,0.91],[13.85,0.99],[16.65,0.82],[15.42,0.57],[12.48,0.66],[13.23,0.67],[13.44,0.41],[12.96,0.2],[13.56,0.2],[13.19,0.22],
  [18.99,0.43],[19.32,0.38],[21.91,0.57],[22.17,0.45],[23.19,0.18],[24.43,0.36],[24.11,-0.17],[21.83,-0.32],[20.24,-0.32],[18.42,-0.32],
  [17.41,-0.57],[16.51,-0.35],[15.85,-0.22],[15.42,-0.36],[15.46,-0.54],[14.1,-0.71],[13.19,-0.62],[12.92,-0.66],[12.51,-0.88],[17.5,-0.11],
  [18.5,-0.06],
  // -1 .. -2.5
  [1.58,-1.11],[1.73,-1.25],[1.85,-1.29],[2.51,-1.36],[2.78,-1.19],[3.0,-1.13],[3.17,-1.08],[3.42,-1.05],[3.75,-1.11],[3.85,-1.2],
  [4.08,-1.2],[3.61,-1.34],[4.01,-1.41],[4.45,-1.11],[4.54,-1.25],[4.68,-1.32],[5.03,-1.18],[5.16,-1.13],[5.27,-1.41],[5.52,-1.39],
  [5.69,-1.43],[6.15,-1.5],[6.57,-1.34],[6.62,-1.29],[6.8,-1.46],[6.97,-1.5],[7.28,-1.41],[7.55,-1.32],[7.86,-1.34],[7.99,-1.43],
  [8.17,-1.48],[8.5,-1.11],[9.05,-1.06],[9.27,-1.11],[9.38,-1.25],[9.22,-1.43],[9.8,-1.43],[9.89,-1.11],[10.42,-1.25],[10.73,-1.27],
  [11.45,-1.25],[11.43,-1.48],[12.14,-1.23],[12.25,-1.29],
  [1.58,-1.72],[2.2,-1.85],[2.32,-1.98],[2.44,-1.78],[2.44,-1.55],[2.6,-2.06],[2.64,-2.25],[3.02,-2.04],[3.31,-2.06],[3.38,-2.02],
  [3.34,-2.27],[3.57,-2.2],[3.63,-2.02],[3.77,-1.78],[3.97,-1.64],[4.19,-1.76],[4.1,-1.53],[4.47,-1.6],[4.6,-1.98],[4.81,-2.09],
  [5.23,-2.02],[5.41,-1.67],[5.66,-1.6],[5.74,-2.04],[5.81,-1.94],[6.13,-1.71],[6.34,-1.92],[6.53,-1.84],[6.73,-1.95],[6.57,-1.62],
  [6.72,-1.64],[7.09,-1.71],[7.33,-1.69],[7.44,-1.82],[7.63,-1.82],[7.97,-1.62],[8.12,-1.69],[8.14,-1.83],[8.63,-1.88],[8.98,-1.9],
  [9.14,-1.81],[8.72,-2.12],[8.77,-2.2],[9.03,-2.17],[9.14,-2.37],[9.47,-2.4],[9.71,-1.61],[9.75,-1.78],[9.87,-1.91],[10.57,-1.74],
  [11.26,-1.88],[11.72,-1.88],[12.18,-1.81],[10.48,-2.25],[10.9,-2.17],[11.52,-2.23],[11.56,-2.37],[12.14,-2.36],[1.43,-2.37],
  [4.38,-2.4],[5.65,-2.4],
  [13.39,-1.17],[13.78,-1.27],[13.56,-1.44],[14.14,-1.58],[14.11,-1.89],[14.78,-1.42],[15.32,-1.52],[15.78,-1.58],[17.96,-1.26],[17.31,-1.52],
  [17.15,-1.77],[18.13,-1.8],[13.3,-2.07],[15.19,-2.19],[18.19,-2.22],[18.39,-2.39],[14.25,-2.35],[14.29,-2.5],[14.85,-2.46],[15.82,-2.56],
  [16.32,-2.53],[24.49,-1.75],[26.0,-2.46],
  // -2.5 .. -5
  [3.06,-2.53],[3.32,-2.53],[3.61,-2.6],[3.81,-2.68],[3.24,-2.76],[2.91,-2.87],[2.42,-2.9],[3.44,-3.17],[4.45,-3.04],[4.85,-2.96],
  [4.81,-3.2],[2.86,-3.44],[5.2,-2.64],[5.52,-2.53],[5.92,-2.5],[6.04,-2.57],[6.18,-2.5],[5.87,-2.74],[6.55,-2.67],[6.75,-2.5],
  [6.93,-2.5],[7.03,-2.69],[7.26,-2.68],[6.75,-2.92],[6.84,-2.9],[7.09,-3.02],[6.73,-3.1],[5.82,-3.1],[6.04,-3.09],[6.13,-3.25],
  [7.19,-3.25],[7.63,-2.9],[8.36,-2.54],[8.8,-2.61],[9.08,-2.69],[9.6,-2.58],[10.17,-2.56],[9.61,-2.93],[8.64,-3.24],[9.58,-3.3],
  [10.16,-3.25],[10.64,-2.92],[10.79,-3.04],[10.95,-2.75],[11.48,-2.88],[11.54,-3.38],[12.04,-2.61],[12.53,-2.64],[13.53,-3.33],[7.5,-3.47],
  [7.79,-3.61],[6.03,-3.48],
  [2.48,-3.95],[1.79,-4.16],[1.88,-4.26],[2.98,-4.23],[2.96,-4.51],[3.1,-4.55],[2.66,-4.76],[3.39,-3.81],[3.48,-3.76],[4.04,-3.69],
  [4.36,-3.61],[4.37,-3.88],[4.17,-4.27],[4.25,-4.24],[4.43,-4.33],[4.53,-4.75],[5.07,-4.11],[5.65,-3.91],[5.96,-3.81],[6.34,-3.81],
  [6.47,-3.78],[6.88,-3.9],[6.8,-4.05],[7.17,-4.02],[7.56,-3.85],[5.89,-4.87],[6.64,-4.75],[6.95,-4.87],[8.31,-4.75],[8.68,-4.23],
  [9.09,-4.17],[9.55,-3.99],[9.91,-3.75],[10.81,-3.68],[9.2,-4.7],[9.85,-4.85],[10.13,-4.71],[12.27,-4.34],[12.94,-3.76],[13.29,-4.13],
  [13.45,-4.2],[13.47,-4.5],[13.6,-4.62],
  [17.01,-2.82],[15.21,-3.18],[14.32,-3.74],[14.76,-4.32],[16.09,-4.12],[18.42,-4.54],[18.64,-3.95],[20.44,-3.55],[23.95,-3.2],
  // below -5
  [4.61,-5.07],[5.22,-5.23],[6.75,-5.29],[6.4,-5.53],[5.87,-5.69],[4.88,-5.67],[2.94,-5.44],[2.8,-5.67],[1.59,-5.79],[3.47,-6.02],
  [3.51,-6.16],[4.38,-6.09],[5.87,-6.3],[8.37,-5.85],[11.24,-6.81],[7.1,-6.95],
  [14.17,-6.62],[15.04,-6.42],[15.26,-6.72]
];

// labelled genes
const geneNames = ['MYC', 'BRCA1', 'CD8A', 'VEGFA', 'TP53', 'HIF1A', 'EGFR', 'IL6', 'FOXP3', 'TNF'];
const geneMean = [4.35, 2.99, 5.62, 8.08, 16.86, 8.02, 8.81, 16.09, 17.02, 20.99];
const geneLfc = [10.31, 7.61, 7.46, 7.66, 7.95, -7.05, -7.61, -7.75, -7.19, -9.32];

// loess trend
const trendMean = [0.8, 2.0, 3.5, 4.7, 6.0, 7.3, 8.5, 10.0, 11.5, 13.0, 15.0, 17.0, 20.0, 23.0, 26.0, 28.45];
const trendLfc = [0.0, 0.02, 0.06, 0.1, 0.05, 0.0, -0.02, -0.05, -0.04, -0.02, -0.02, -0.01, 0.0, 0.0, 0.01, 0.01];

const xLabelValues = [0, 10, 20, 30, 40];
const xGridValues = [0, 5, 10, 15, 20, 25, 30, 35, 40];
const yLabelValues = [-10, -5, 0, 5, 10];
const yGridValues = [-10, -7.5, -5, -2.5, 0, 2.5, 5, 7.5, 10];
const foldThreshold = 1;

const FONT = 'DejaVu Sans';
const INK = '#F0EFE8';
const MUTED = '#B8B8B0';
const RULE = '#B3B3AB';
const GREEN = '#009E73';
const GREY = '#A8A8A0';

const greyStyle = { color: 'rgba(168,168,160,0.3)', borderColor: 'rgba(168,168,160,0.34)', borderWidth: 1.5 };
const greyCoreStyle = { color: 'rgba(168,168,160,0.68)', borderColor: 'rgba(168,168,160,0.5)', borderWidth: 1 };
const greenStyle = { color: 'rgba(0,158,115,0.55)', borderColor: 'rgba(0,158,115,0.6)', borderWidth: 2.5 };

const chart = echarts.init(document.getElementById('chart'), null, { renderer: 'canvas' });

const option = {
  backgroundColor: '#1A1A17',
  animation: false,
  textStyle: { fontFamily: FONT },
  title: {
    text: 'ma-differential-expression · r · ggplot2 · anyplot.ai',
    left: 174,
    top: 12,
    textStyle: { color: INK, fontSize: 66, fontWeight: 'normal', fontFamily: FONT }
  },
  legend: {
    orient: 'vertical',
    left: 2568,
    top: 173,
    padding: [49, 25, 50, 50],
    itemGap: 54,
    itemWidth: 43,
    itemHeight: 43,
    icon: 'circle',
    backgroundColor: '#242420',
    borderColor: MUTED,
    borderWidth: 3,
    selectedMode: false,
    textStyle: { color: MUTED, fontSize: 44, fontFamily: FONT, lineHeight: 43, padding: [0, 0, 0, 46] },
    data: [
      { name: 'Non-significant', itemStyle: { color: GREY, opacity: 1, borderWidth: 0 } },
      { name: 'Significant', itemStyle: { color: GREEN, opacity: 1, borderWidth: 0 } }
    ]
  },
  grid: { left: 176, right: 22, top: 106, bottom: 146, containLabel: false },
  xAxis: {
    type: 'value',
    min: -1.163,
    max: 40.42,
    name: 'Mean Average Expression (log₂)',
    nameLocation: 'middle',
    nameGap: 70,
    nameTextStyle: { color: INK, fontSize: 55, fontFamily: FONT },
    axisLine: { show: true, onZero: false, lineStyle: { color: RULE, width: 3 } },
    axisTick: { show: false, customValues: xGridValues },
    axisLabel: { customValues: xLabelValues, color: MUTED, fontSize: 42, margin: 19, fontFamily: FONT },
    splitLine: { show: true, lineStyle: { color: RULE, width: 1.3 } }
  },
  yAxis: {
    type: 'value',
    min: -10.335,
    max: 11.285,
    name: 'Log₂ Fold Change',
    nameLocation: 'middle',
    nameGap: 98,
    nameTextStyle: { color: INK, fontSize: 55, fontFamily: FONT },
    axisLine: { show: true, onZero: false, lineStyle: { color: RULE, width: 2.5 } },
    axisTick: { show: false, customValues: yGridValues },
    axisLabel: { customValues: yLabelValues, color: MUTED, fontSize: 42, margin: 20, fontFamily: FONT },
    splitLine: { show: true, lineStyle: { color: RULE, width: 2.2 } }
  },
  series: [
    {
      name: 'Non-significant',
      type: 'scatter',
      z: 2,
      symbolSize: 11,
      data: nonSigPoints,
      itemStyle: greyStyle,
      emphasis: { disabled: true }
    },
    {
      name: 'Non-significant',
      type: 'scatter',
      z: 2,
      symbolSize: 16,
      data: nonSigCore,
      itemStyle: greyCoreStyle,
      emphasis: { disabled: true }
    },
    {
      name: 'Significant',
      type: 'scatter',
      z: 3,
      symbolSize: 16,
      data: sigPoints,
      itemStyle: greenStyle,
      emphasis: { disabled: true }
    },
    {
      name: 'thresholds',
      type: 'line',
      z: 4,
      data: [],
      markLine: {
        silent: true,
        symbol: ['none', 'none'],
        label: { show: false },
        animation: false,
        data: [
          { yAxis: foldThreshold, lineStyle: { color: '#BDBDB5', width: 5, type: [21, 22] } },
          { yAxis: -foldThreshold, lineStyle: { color: '#BDBDB5', width: 5, type: [21, 22] } },
          { yAxis: 0, lineStyle: { color: INK, width: 7, type: 'solid' } }
        ]
      }
    },
    {
      name: 'trend',
      type: 'line',
      z: 5,
      smooth: true,
      showSymbol: false,
      data: trendMean.map((m, i) => [m, trendLfc[i]]),
      lineStyle: { color: '#BF8335', width: 13, cap: 'butt' },
      emphasis: { disabled: true }
    },
    {
      name: 'Significant',
      type: 'scatter',
      z: 6,
      symbolSize: 16,
      data: geneNames.map((g, i) => ({ name: g, value: [geneMean[i], geneLfc[i]] })),
      itemStyle: greenStyle,
      label: { show: true, position: 'right', distance: 8, formatter: '{b}', color: INK, fontSize: 45, fontFamily: FONT },
      emphasis: { disabled: true }
    }
  ]
};

chart.setOption(option);
</script>
</body>
</html>
